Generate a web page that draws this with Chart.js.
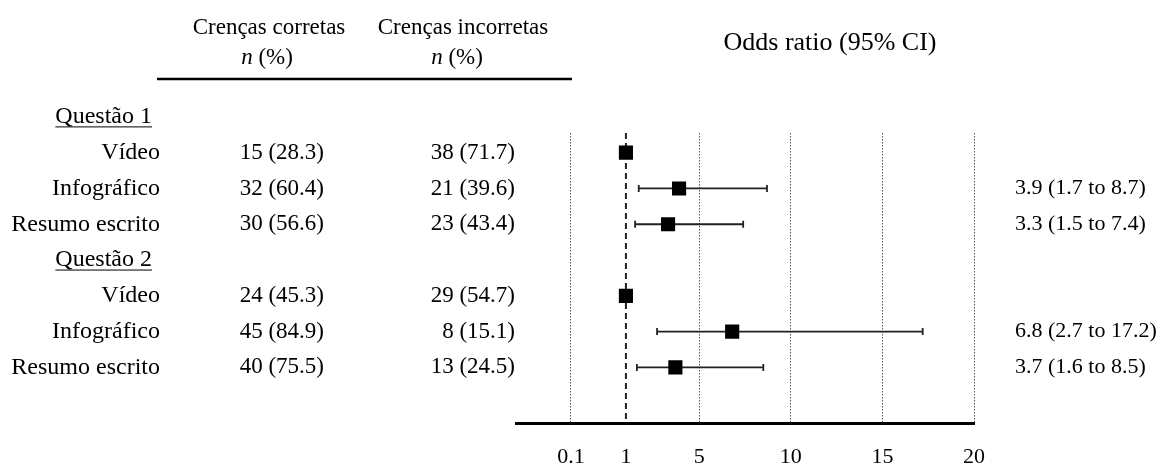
<!DOCTYPE html>
<html>
<head>
<meta charset="utf-8">
<script src="https://cdn.jsdelivr.net/npm/chart.js@4.4.1/dist/chart.umd.min.js"></script>
<style>
  body { margin: 0; background: #fff; }
</style>
</head>
<body>
<canvas id="forestChart" width="1159" height="467"></canvas>
<script>
// table rows, top to bottom (rows 0 and 4 are the question headers)
const rowLabels = ["Questão 1", "Vídeo", "Infográfico", "Resumo escrito", "Questão 2", "Vídeo", "Infográfico", "Resumo escrito"];
const headerRows = [0, 4];
const correctBeliefs = [null, "15 (28.3)", "32 (60.4)", "30 (56.6)", null, "24 (45.3)", "45 (84.9)", "40 (75.5)"];
const incorrectBeliefs = [null, "38 (71.7)", "21 (39.6)", "23 (43.4)", null, "29 (54.7)", "8 (15.1)", "13 (24.5)"];
const oddsRatio = [null, 1, 3.9, 3.3, null, 1, 6.8, 3.7];
const ciLow = [null, null, 1.7, 1.5, null, null, 2.7, 1.6];
const ciHigh = [null, null, 8.7, 7.4, null, null, 17.2, 8.5];

// x axis: "0.1" sits on a break left of 1
const tickValues = [-2, 1, 5, 10, 15, 20];
const tickLabels = ["0.1", "1", "5", "10", "15", "20"];

const yMin = 0.45;
const yMax = 8.57;
const serif = "'Liberation Serif', 'Times New Roman', serif";

// squares for the odds ratios
const orPoints = [];
oddsRatio.forEach((v, i) => {
  if (v !== null) orPoints.push({ x: v, y: i });
});

// one small line dataset per confidence interval
const ciDatasets = [];
ciLow.forEach((lo, i) => {
  if (lo === null) return;
  ciDatasets.push({
    type: "line",
    data: [{ x: lo, y: i }, { x: ciHigh[i], y: i }],
    borderColor: "#222",
    borderWidth: 1.8,
    pointStyle: "line",
    pointRotation: 90,
    pointRadius: 3.5,
    pointBorderColor: "#222",
    pointBorderWidth: 1.8,
    order: 2
  });
});

// draws the table text around the plot, rows placed with the y scale
const tablePlugin = {
  id: "tableText",
  afterDraw(chart) {
    const ctx = chart.ctx;
    const y = chart.scales.y;
    ctx.save();
    ctx.fillStyle = "#000";
    ctx.textBaseline = "middle";

    // column headers
    ctx.font = "23px " + serif;
    ctx.textAlign = "center";
    ctx.fillText("Crenças corretas", 269, 28);
    ctx.fillText("Crenças incorretas", 463, 28);
    drawNPercent(ctx, 267, 58);
    drawNPercent(ctx, 457, 58);

    ctx.strokeStyle = "#000";
    ctx.lineWidth = 2.5;
    ctx.beginPath();
    ctx.moveTo(157, 79);
    ctx.lineTo(572, 79);
    ctx.stroke();

    ctx.font = "26px " + serif;
    ctx.fillText("Odds ratio (95% CI)", 830, 43);

    rowLabels.forEach((label, i) => {
      const py = y.getPixelForValue(i);
      ctx.font = "24px " + serif;
      if (headerRows.includes(i)) {
        ctx.textAlign = "right";
        ctx.fillText(label, 152, py);
        const w = ctx.measureText(label).width;
        ctx.lineWidth = 1;
        ctx.strokeStyle = "#000";
        ctx.beginPath();
        ctx.moveTo(152 - w, py + 10);
        ctx.lineTo(152, py + 10);
        ctx.stroke();
        return;
      }
      ctx.textAlign = "right";
      ctx.fillText(label, 160, py);
      ctx.font = "23px " + serif;
      ctx.fillText(correctBeliefs[i], 324, py);
      ctx.fillText(incorrectBeliefs[i], 515, py);
      if (ciLow[i] !== null) {
        ctx.font = "22px " + serif;
        ctx.textAlign = "left";
        const txt = oddsRatio[i].toFixed(1) + " (" + ciLow[i].toFixed(1) + " to " + ciHigh[i].toFixed(1) + ")";
        ctx.fillText(txt, 1015, py);
      }
    });
    ctx.restore();
  }
};

function drawNPercent(ctx, cx, cy) {
  ctx.font = "italic 23px " + serif;
  const wn = ctx.measureText("n").width;
  ctx.font = "23px " + serif;
  const wr = ctx.measureText(" (%)").width;
  const x0 = cx - (wn + wr) / 2;
  ctx.textAlign = "left";
  ctx.font = "italic 23px " + serif;
  ctx.fillText("n", x0, cy);
  ctx.font = "23px " + serif;
  ctx.fillText(" (%)", x0 + wn, cy);
  ctx.textAlign = "center";
}

const ctx = document.getElementById("forestChart").getContext("2d");
new Chart(ctx, {
  type: "scatter",
  data: {
    datasets: [
      {
        label: "Odds ratio",
        data: orPoints,
        pointStyle: "rect",
        pointRadius: 10,
        pointBackgroundColor: "#000",
        pointBorderColor: "#000",
        pointBorderWidth: 0,
        order: 0
      },
      ...ciDatasets,
      {
        // reference line at OR = 1
        type: "line",
        data: [{ x: 1, y: yMin }, { x: 1, y: yMax }],
        borderColor: "#222",
        borderWidth: 2,
        borderDash: [6, 4],
        pointRadius: 0,
        order: 3
      }
    ]
  },
  options: {
    responsive: false,
    animation: false,
    layout: { padding: { left: 516, right: 185, top: 133, bottom: -23 } },
    plugins: {
      legend: { display: false },
      tooltip: { enabled: false }
    },
    scales: {
      x: {
        type: "linear",
        min: -5,
        max: 20,
        afterBuildTicks: (scale) => {
          scale.ticks = tickValues.map(v => ({ value: v }));
        },
        ticks: {
          callback: (value) => tickLabels[tickValues.indexOf(value)],
          color: "#000",
          font: { family: serif, size: 22 },
          padding: 20,
          maxRotation: 0,
          autoSkip: false
        },
        grid: {
          color: (c) => (c.tick && c.tick.value === 1 ? "rgba(0,0,0,0)" : "#555"),
          lineWidth: 1,
          drawTicks: false
        },
        border: { color: "#000", width: 3, dash: [1.5, 1.5] }
      },
      y: {
        type: "linear",
        display: false,
        reverse: true,
        min: yMin,
        max: yMax
      }
    }
  },
  plugins: [tablePlugin]
});
</script>
</body>
</html>
